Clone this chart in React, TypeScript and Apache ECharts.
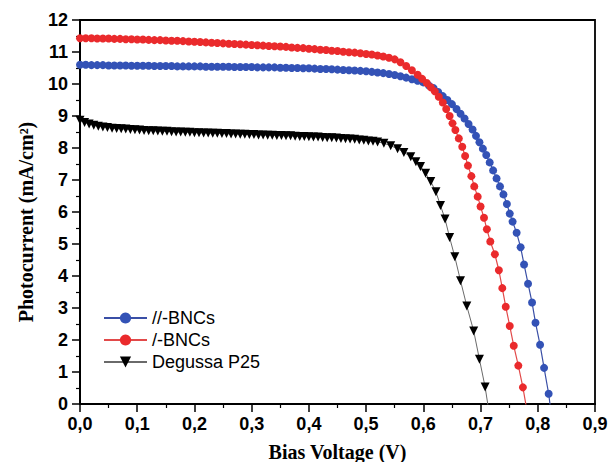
import React, { useEffect, useRef } from "react";
import * as echarts from "echarts";

const xTickLabels = ["0,0", "0,1", "0,2", "0,3", "0,4", "0,5", "0,6", "0,7", "0,8", "0,9"];
const yTickLabels = ["0", "1", "2", "3", "4", "5", "6", "7", "8", "9", "10", "11", "12"];
const seriesNames = ["//-BNCs", "/-BNCs", "Degussa P25"];

const parallelBNCs: [number, number][] = [
  [0.00, 10.60], [0.01, 10.60], [0.02, 10.59], [0.03, 10.59], [0.04, 10.59], [0.05, 10.58],
  [0.06, 10.58], [0.07, 10.58], [0.08, 10.58], [0.09, 10.57], [0.10, 10.57], [0.11, 10.57],
  [0.12, 10.57], [0.13, 10.56], [0.14, 10.56], [0.15, 10.56], [0.16, 10.56], [0.17, 10.55],
  [0.18, 10.55], [0.19, 10.55], [0.20, 10.55], [0.21, 10.55], [0.22, 10.54], [0.23, 10.54],
  [0.24, 10.54], [0.25, 10.54], [0.26, 10.54], [0.27, 10.53], [0.28, 10.53], [0.29, 10.53],
  [0.30, 10.53], [0.31, 10.52], [0.32, 10.52], [0.33, 10.52], [0.34, 10.52], [0.35, 10.51],
  [0.36, 10.51], [0.37, 10.50], [0.38, 10.50], [0.39, 10.49], [0.40, 10.49], [0.41, 10.48],
  [0.42, 10.47], [0.43, 10.47], [0.44, 10.46], [0.45, 10.45], [0.46, 10.44], [0.47, 10.43],
  [0.48, 10.42], [0.49, 10.41], [0.50, 10.40], [0.51, 10.38], [0.52, 10.36], [0.53, 10.34],
  [0.54, 10.31], [0.55, 10.28], [0.56, 10.24], [0.57, 10.20], [0.58, 10.15], [0.59, 10.10],
  [0.600, 10.05], [0.610, 9.95], [0.618, 9.87], [0.626, 9.75], [0.634, 9.62], [0.642, 9.50],
  [0.650, 9.37], [0.658, 9.22], [0.665, 9.07], [0.672, 8.92], [0.679, 8.75], [0.686, 8.58],
  [0.692, 8.38], [0.698, 8.18], [0.704, 7.98], [0.710, 7.78], [0.716, 7.55], [0.722, 7.30],
  [0.728, 7.05], [0.734, 6.80], [0.740, 6.55], [0.746, 6.25], [0.751, 5.95], [0.756, 5.70],
  [0.763, 5.35], [0.770, 4.90], [0.776, 4.36], [0.783, 3.76], [0.790, 3.17], [0.796, 2.54],
  [0.804, 1.85], [0.811, 1.13], [0.819, 0.32], [0.825, -0.50],
];

const lBNCs: [number, number][] = [
  [0.00, 11.43], [0.01, 11.43], [0.02, 11.43], [0.03, 11.42], [0.04, 11.42], [0.05, 11.42],
  [0.06, 11.41], [0.07, 11.41], [0.08, 11.40], [0.09, 11.40], [0.10, 11.39], [0.11, 11.39],
  [0.12, 11.38], [0.13, 11.37], [0.14, 11.37], [0.15, 11.36], [0.16, 11.35], [0.17, 11.35],
  [0.18, 11.34], [0.19, 11.33], [0.20, 11.32], [0.21, 11.31], [0.22, 11.30], [0.23, 11.29],
  [0.24, 11.28], [0.25, 11.27], [0.26, 11.26], [0.27, 11.25], [0.28, 11.24], [0.29, 11.23],
  [0.30, 11.22], [0.31, 11.21], [0.32, 11.20], [0.33, 11.19], [0.34, 11.18], [0.35, 11.17],
  [0.36, 11.16], [0.37, 11.14], [0.38, 11.13], [0.39, 11.12], [0.40, 11.10], [0.41, 11.09],
  [0.42, 11.07], [0.43, 11.06], [0.44, 11.04], [0.45, 11.03], [0.46, 11.01], [0.47, 10.99],
  [0.48, 10.98], [0.49, 10.96], [0.50, 10.94], [0.51, 10.92], [0.52, 10.89], [0.53, 10.86],
  [0.54, 10.82], [0.55, 10.77], [0.560, 10.68], [0.570, 10.56], [0.580, 10.43], [0.590, 10.29],
  [0.598, 10.16], [0.606, 10.03], [0.613, 9.90], [0.620, 9.77], [0.627, 9.60], [0.634, 9.42],
  [0.640, 9.22], [0.646, 9.00], [0.651, 8.77], [0.656, 8.56], [0.662, 8.30], [0.668, 8.04],
  [0.673, 7.75], [0.678, 7.45], [0.684, 7.12], [0.689, 6.80], [0.695, 6.48], [0.700, 6.17],
  [0.706, 5.82], [0.711, 5.46], [0.717, 5.08], [0.725, 4.68], [0.732, 4.18], [0.738, 3.62],
  [0.744, 3.04], [0.751, 2.44], [0.758, 1.82], [0.766, 1.20], [0.774, 0.52], [0.781, -0.20],
];

const degussaP25: [number, number][] = [
  [0.000, 8.87], [0.008, 8.80], [0.016, 8.75], [0.024, 8.71], [0.032, 8.68], [0.040, 8.66],
  [0.048, 8.64], [0.056, 8.62], [0.064, 8.61], [0.072, 8.60], [0.080, 8.59], [0.088, 8.58],
  [0.096, 8.57], [0.104, 8.56], [0.112, 8.55], [0.120, 8.54], [0.128, 8.54], [0.136, 8.53],
  [0.144, 8.52], [0.152, 8.52], [0.160, 8.51], [0.168, 8.50], [0.176, 8.50], [0.184, 8.49],
  [0.192, 8.49], [0.200, 8.48], [0.208, 8.48], [0.216, 8.47], [0.224, 8.47], [0.232, 8.46],
  [0.240, 8.46], [0.248, 8.45], [0.256, 8.45], [0.264, 8.44], [0.272, 8.44], [0.280, 8.43],
  [0.288, 8.43], [0.296, 8.42], [0.304, 8.42], [0.312, 8.41], [0.320, 8.41], [0.328, 8.40],
  [0.336, 8.40], [0.344, 8.39], [0.352, 8.39], [0.360, 8.38], [0.368, 8.38], [0.376, 8.37],
  [0.384, 8.36], [0.392, 8.36], [0.400, 8.35], [0.408, 8.34], [0.416, 8.34], [0.424, 8.33],
  [0.432, 8.32], [0.440, 8.32], [0.448, 8.31], [0.456, 8.30], [0.464, 8.29], [0.472, 8.28],
  [0.480, 8.27], [0.488, 8.25], [0.496, 8.24], [0.504, 8.22], [0.512, 8.21], [0.520, 8.19],
  [0.531, 8.15], [0.543, 8.07], [0.555, 7.98], [0.566, 7.86], [0.578, 7.73], [0.587, 7.57],
  [0.595, 7.42], [0.604, 7.21], [0.613, 6.95], [0.622, 6.63], [0.630, 6.20], [0.638, 5.78],
  [0.646, 5.20], [0.655, 4.60], [0.665, 3.85], [0.676, 3.06], [0.688, 2.28], [0.698, 1.40],
  [0.708, 0.53], [0.716, -0.40],
];

const colors = {
  blue: "#3352b6",
  blueLine: "#3a4fa6",
  red: "#ea2a2c",
  redLine: "#e24a4a",
  black: "#000000",
  blackLine: "#6a6a6a",
};

export default function App() {
  const ref = useRef<HTMLDivElement>(null);
  useEffect(() => {
    if (!ref.current) return;
    const chart = echarts.init(ref.current, undefined, { renderer: "svg" });
    const tickFont = {
      fontFamily: "Liberation Sans, Arial, sans-serif",
      fontWeight: "bold" as const,
      fontSize: 18,
      color: "#000",
    };
    const titleFont = {
      fontFamily: "Liberation Serif, Times New Roman, serif",
      fontWeight: "bold" as const,
      fontSize: 20,
      color: "#000",
    };
    chart.setOption({
      animation: false,
      backgroundColor: "#ffffff",
      grid: {
        left: 80,
        right: 15,
        top: 20,
        bottom: 58,
        show: true,
        borderColor: "#000",
        borderWidth: 1.8,
        backgroundColor: "transparent",
        outerBoundsMode: "none",
        containLabel: false,
      },
      legend: {
        left: 98,
        top: 304,
        orient: "vertical",
        itemWidth: 43,
        itemHeight: 14,
        itemGap: 4,
        itemStyle: { borderWidth: 0 },
        textStyle: {
          fontFamily: "Liberation Sans, Arial, sans-serif",
          fontSize: 18,
          color: "#000",
        },
        data: seriesNames,
      },
      xAxis: {
        type: "value",
        min: 0,
        max: 0.9,
        interval: 0.1,
        name: "Bias Voltage (V)",
        nameLocation: "middle",
        nameGap: 38,
        nameTextStyle: titleFont,
        axisLine: { show: true, lineStyle: { color: "#000", width: 2 } },
        axisTick: { show: true, inside: false, length: 8, lineStyle: { color: "#000", width: 1.5 } },
        minorTick: { show: true, splitNumber: 2, length: 4, lineStyle: { color: "#000", width: 1.2 } },
        splitLine: { show: false },
        axisLabel: {
          ...tickFont,
          margin: 11,
          formatter: (v: number) => xTickLabels[Math.round(v * 10)] ?? "",
        },
      },
      yAxis: {
        type: "value",
        min: 0,
        max: 12,
        interval: 1,
        name: "Photocurrent (mA/cm²)",
        nameLocation: "middle",
        nameGap: 44,
        nameTextStyle: { ...titleFont, padding: [0, 20, 0, 0] },
        axisLine: { show: true, lineStyle: { color: "#000", width: 2 } },
        axisTick: { show: true, inside: false, length: 8, lineStyle: { color: "#000", width: 1.5 } },
        minorTick: { show: true, splitNumber: 2, length: 4, lineStyle: { color: "#000", width: 1.2 } },
        splitLine: { show: false },
        axisLabel: {
          ...tickFont,
          margin: 12,
          formatter: (v: number) => yTickLabels[Math.round(v)] ?? "",
        },
      },
      series: [
        {
          name: seriesNames[0],
          type: "line",
          data: parallelBNCs,
          symbol: "circle",
          symbolSize: 8,
          showAllSymbol: true,
          clip: true,
          itemStyle: { color: colors.blue },
          lineStyle: { color: colors.blueLine, width: 1.2 },
          z: 2,
        },
        {
          name: seriesNames[1],
          type: "line",
          data: lBNCs,
          symbol: "circle",
          symbolSize: 8,
          showAllSymbol: true,
          clip: true,
          itemStyle: { color: colors.red },
          lineStyle: { color: colors.redLine, width: 1.2 },
          z: 3,
        },
        {
          name: seriesNames[2],
          type: "line",
          data: degussaP25,
          symbol: "triangle",
          symbolRotate: 180,
          symbolSize: 9,
          showAllSymbol: true,
          clip: true,
          itemStyle: { color: colors.black },
          lineStyle: { color: colors.blackLine, width: 1 },
          z: 4,
        },
      ],
    });
    return () => chart.dispose();
  }, []);
  return (
    <div
      ref={ref}
      style={{ position: "fixed", left: 0, top: 0, width: 610, height: 462, background: "#fff" }}
    />
  );
}
